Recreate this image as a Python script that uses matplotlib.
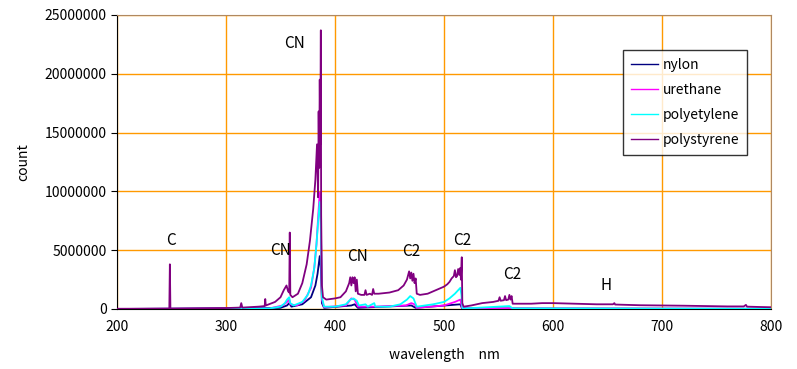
import numpy as np
import matplotlib
matplotlib.use("Agg")
import matplotlib.pyplot as plt
import matplotlib.ticker as ticker

plt.rcParams['font.family'] = ['Noto Sans CJK JP', 'DejaVu Sans']

# spectra (wavelength nm, counts in millions)
nylon_wl = [200, 350, 356, 358, 360, 370, 378, 382, 384, 386, 387, 388, 390,
            415, 418, 421, 470, 474, 515, 516.5, 800]
nylon_m = [0, 0.1, 0.3, 0.5, 0.2, 0.4, 1.0, 2.0, 3.0, 4.5, 3.5, 0.5, 0.1,
           0.3, 0.4, 0.1, 0.3, 0.1, 0.4, 0.05, 0.01]

urethane_wl = [200, 340, 352, 356, 358, 359, 365, 372, 378, 381, 383, 385, 386,
               387, 388, 390, 410, 415, 418, 421, 436, 465, 470, 473, 475,
               500, 510, 515, 516.5, 540, 800]
urethane_m = [0, 0.05, 0.3, 0.6, 0.8, 0.4, 0.3, 0.7, 1.8, 3.5, 5.5, 8.5, 9.9,
              7.0, 0.8, 0.15, 0.3, 0.9, 0.8, 0.2, 0.2, 0.3, 0.5, 0.4, 0.1,
              0.3, 0.6, 0.8, 0.1, 0.05, 0.02]

polyet_wl = [200, 300, 340, 350, 354, 356, 358, 359, 362, 370, 375, 378, 381,
             383, 385, 386, 387, 388, 390, 400, 410, 414, 417, 420, 422, 428,
             430, 436, 437, 450, 460, 466, 469, 472, 475, 490, 500, 505, 510,
             513, 515, 516, 517, 530, 550, 560, 563, 600, 700, 800]
polyet_m = [0.0, 0.02, 0.05, 0.2, 0.5, 0.8, 1.0, 0.5, 0.3, 0.6, 1.2, 2.0, 3.5,
            5.5, 8.0, 9.1, 7.5, 1.0, 0.2, 0.2, 0.4, 0.8, 0.9, 0.7, 0.3, 0.4,
            0.2, 0.5, 0.2, 0.2, 0.4, 0.8, 1.1, 0.9, 0.2, 0.4, 0.6, 0.9, 1.3,
            1.6, 1.8, 1.2, 0.05, 0.1, 0.2, 0.25, 0.05, 0.05, 0.03, 0.02]

polyst_wl = [200, 240, 248, 248.5, 249, 270, 300, 313, 314, 315, 330, 335.5,
             336, 336.5, 345, 350, 353, 355.5, 357, 358, 358.5, 359, 361, 366,
             370, 374, 377, 380, 382, 383.5, 384.5, 385, 385.5, 386, 386.5,
             387, 387.3, 388, 389, 392, 400, 405, 410, 413, 414, 415, 416,
             417, 418, 419, 420, 421, 424, 427, 428, 429, 432, 434, 435, 436,
             440, 450, 458, 463, 466, 468, 469, 470, 471, 472, 473, 474, 475,
             478, 485, 490, 495, 500, 503, 505, 507, 509, 510, 511, 512, 513,
             514, 515, 515.5, 516.3, 516.8, 518, 525, 535, 545, 550, 551, 552,
             555, 556, 557, 559, 560, 561, 562, 563, 570, 580, 590, 600, 620,
             640, 655, 656.3, 657, 680, 700, 720, 740, 760, 775, 777, 778,
             790, 800]
polyst_m = [0.02, 0.03, 0.03, 3.8, 0.03, 0.05, 0.08, 0.12, 0.5, 0.12, 0.2, 0.25,
            0.85, 0.3, 0.6, 1.0, 1.6, 2.0, 1.5, 1.4, 6.5, 1.2, 1.0, 1.3,
            2.2, 3.8, 5.8, 8.5, 11, 14, 9.5, 16.8, 12, 19.5, 14,
            23.7, 8, 2, 1.0, 0.8, 0.9, 1.0, 1.5, 2.2, 2.7, 2.0, 2.7,
            2.2, 2.7, 1.5, 2.5, 1.3, 1.2, 1.2, 1.6, 1.2, 1.3, 1.2, 1.7, 1.3,
            1.3, 1.4, 1.6, 2.0, 2.5, 3.2, 2.6, 3.1, 2.4, 3.0, 2.2, 2.6, 1.3,
            1.2, 1.3, 1.5, 1.7, 1.9, 2.1, 2.3, 2.6, 2.8, 3.3, 2.7, 2.8, 3.4,
            2.9, 3.5, 2.5, 4.4, 0.5, 0.2, 0.3, 0.5, 0.6, 0.7, 1.0, 0.7,
            0.75, 1.1, 0.75, 0.8, 1.2, 0.8, 1.1, 0.45, 0.45, 0.45, 0.5, 0.5, 0.45,
            0.4, 0.4, 0.5, 0.38, 0.32, 0.3, 0.28, 0.25, 0.22, 0.22, 0.35, 0.2,
            0.17, 0.15]

series = [
    ("nylon", nylon_wl, nylon_m, "#000080"),
    ("urethane", urethane_wl, urethane_m, "#FF00FF"),
    ("polyetylene", polyet_wl, polyet_m, "#00FFFF"),
    ("polystyrene", polyst_wl, polyst_m, "#800080"),
]

labels = [("C", 249.5, 5.8), ("CN", 363, 22.6), ("CN", 350, 5.0),
          ("CN", 421, 4.5), ("C2", 470, 4.85), ("C2", 516.5, 5.8),
          ("C2", 563, 2.9), ("H", 648.6, 1.96)]

W, H = 797, 369
fig = plt.figure(figsize=(W / 100, H / 100), dpi=100)
ax = fig.add_axes([117 / W, (H - 309) / H, 654 / W, 294 / H])

for name, wl, m, c in series:
    ax.plot(wl, np.array(m) * 1e6, color=c, lw=1.3, label=name, zorder=3)

for txt, x, y in labels:
    ax.text(x, y * 1e6, txt, fontsize=11, ha='center', va='center', zorder=4)

ax.set_xlim(200, 800)
ax.set_ylim(0, 25000000)
ax.set_xticks(range(200, 801, 100))
ax.set_yticks(range(0, 25000001, 5000000))
ax.yaxis.set_major_formatter(ticker.FormatStrFormatter('%d'))
ax.grid(True, color='#FF9900', lw=1.0, zorder=1)
ax.tick_params(axis='both', labelsize=10, length=4, color='black')
ax.tick_params(axis='x', length=0, pad=8)

for s in ['top', 'right']:
    ax.spines[s].set_color('#B08860')
for s in ['left', 'bottom']:
    ax.spines[s].set_color('black')

ax.set_xlabel("wavelength\u3000nm", fontsize=10, labelpad=10)
ax.set_ylabel("count", fontsize=10, labelpad=10)

leg = ax.legend(loc='upper left', bbox_to_anchor=((623 - 117) / 654, (309 - 50) / 294),
                borderaxespad=0, fontsize=10, frameon=True, fancybox=False,
                handlelength=2.0, borderpad=0.55, labelspacing=0.8,
                handletextpad=0.3)
leg.get_frame().set_edgecolor('black')
leg.get_frame().set_linewidth(1.0)
for ln in leg.get_lines():
    ln.set_linewidth(1.0)

fig.savefig("out.png", dpi=100)
